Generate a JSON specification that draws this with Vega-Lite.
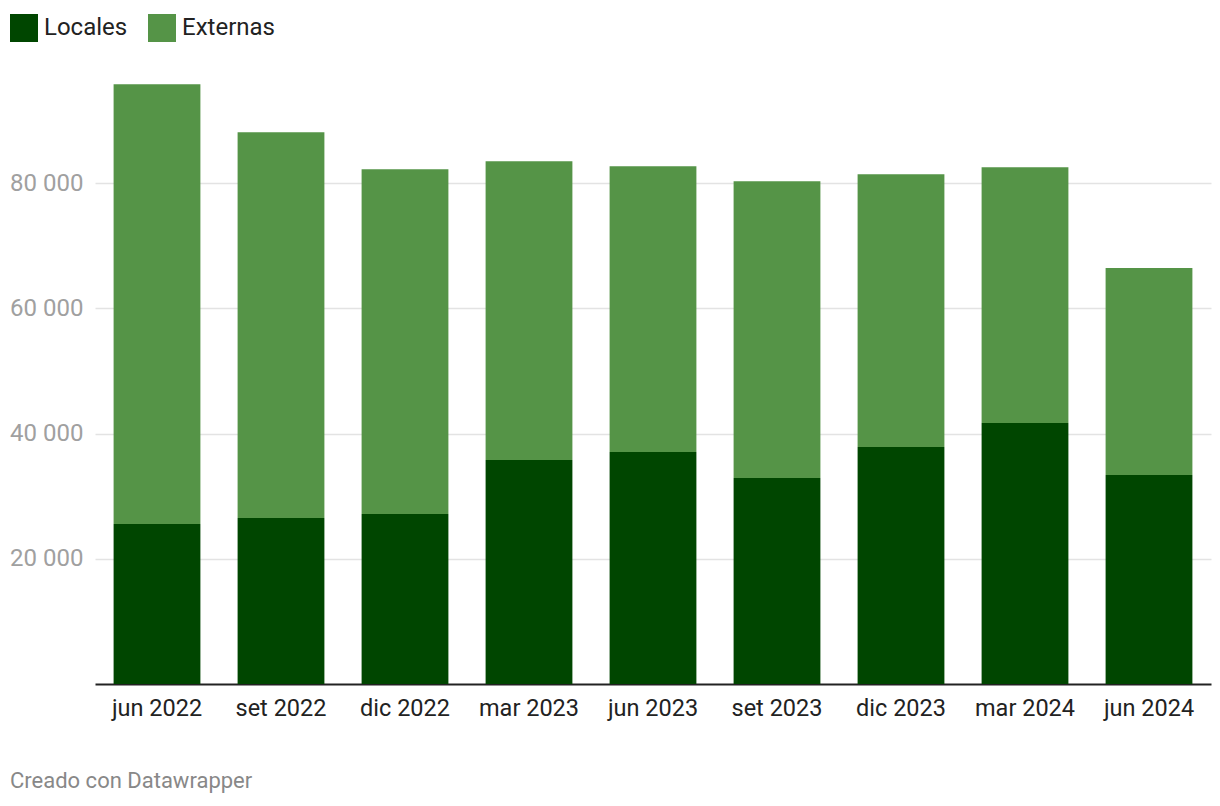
{
  "$schema": "https://vega.github.io/schema/vega-lite/v6.json",
  "autosize": "none",
  "width": 1116,
  "height": 601,
  "padding": {"left": 95, "top": 83, "right": 9, "bottom": 122},
  "background": "white",
  "config": {
    "font": "Roboto",
    "view": {"stroke": null}
  },
  "title": {
    "text": "Creado con Datawrapper",
    "orient": "bottom",
    "anchor": "start",
    "frame": "group",
    "dx": -85,
    "offset": 51,
    "fontSize": 22,
    "fontWeight": "normal",
    "color": "#888888",
    "font": "Roboto"
  },
  "data": {
    "values": [
      {"periodo": "jun 2022", "tipo": "Locales", "valor": 25550},
      {"periodo": "jun 2022", "tipo": "Externas", "valor": 70260},
      {"periodo": "set 2022", "tipo": "Locales", "valor": 26510},
      {"periodo": "set 2022", "tipo": "Externas", "valor": 61630},
      {"periodo": "dic 2022", "tipo": "Locales", "valor": 27150},
      {"periodo": "dic 2022", "tipo": "Externas", "valor": 55090},
      {"periodo": "mar 2023", "tipo": "Locales", "valor": 35770},
      {"periodo": "mar 2023", "tipo": "Externas", "valor": 47740},
      {"periodo": "jun 2023", "tipo": "Locales", "valor": 37050},
      {"periodo": "jun 2023", "tipo": "Externas", "valor": 45660},
      {"periodo": "set 2023", "tipo": "Locales", "valor": 32890},
      {"periodo": "set 2023", "tipo": "Externas", "valor": 47430},
      {"periodo": "dic 2023", "tipo": "Locales", "valor": 37840},
      {"periodo": "dic 2023", "tipo": "Externas", "valor": 43600},
      {"periodo": "mar 2024", "tipo": "Locales", "valor": 41680},
      {"periodo": "mar 2024", "tipo": "Externas", "valor": 40870},
      {"periodo": "jun 2024", "tipo": "Locales", "valor": 33370},
      {"periodo": "jun 2024", "tipo": "Externas", "valor": 33060}
    ]
  },
  "mark": {"type": "bar"},
  "encoding": {
    "x": {
      "field": "periodo",
      "type": "ordinal",
      "sort": null,
      "scale": {"paddingInner": 0.3, "paddingOuter": 0.15},
      "axis": {
        "title": null,
        "labelAngle": 0,
        "labelFontSize": 23.5,
        "labelColor": "#222222",
        "labelPadding": 12,
        "ticks": false,
        "domainColor": "#222222",
        "domainWidth": 2,
        "grid": false
      }
    },
    "y": {
      "field": "valor",
      "type": "quantitative",
      "stack": "zero",
      "scale": {"domain": [0, 96000], "nice": false},
      "axis": {
        "title": null,
        "values": [20000, 40000, 60000, 80000],
        "labelExpr": "replace(format(datum.value, ','), ',', ' ')",
        "labelFontSize": 24,
        "labelColor": "#a0a0a0",
        "labelPadding": 12,
        "ticks": false,
        "domain": false,
        "grid": true,
        "gridColor": "#e3e3e3",
        "gridWidth": 1.5
      }
    },
    "color": {
      "field": "tipo",
      "type": "nominal",
      "sort": ["Locales", "Externas"],
      "scale": {"domain": ["Locales", "Externas"], "range": ["#004600", "#559447"]},
      "legend": {
        "title": null,
        "orient": "none",
        "legendX": -85,
        "legendY": -69,
        "direction": "horizontal",
        "symbolType": "square",
        "symbolSize": 784,
        "symbolStrokeWidth": 0,
        "symbolOpacity": 1,
        "labelFontSize": 24,
        "labelColor": "#222222",
        "labelOffset": 6,
        "columnPadding": 20
      }
    },
    "order": {"field": "tipo", "sort": "descending"}
  }
}
